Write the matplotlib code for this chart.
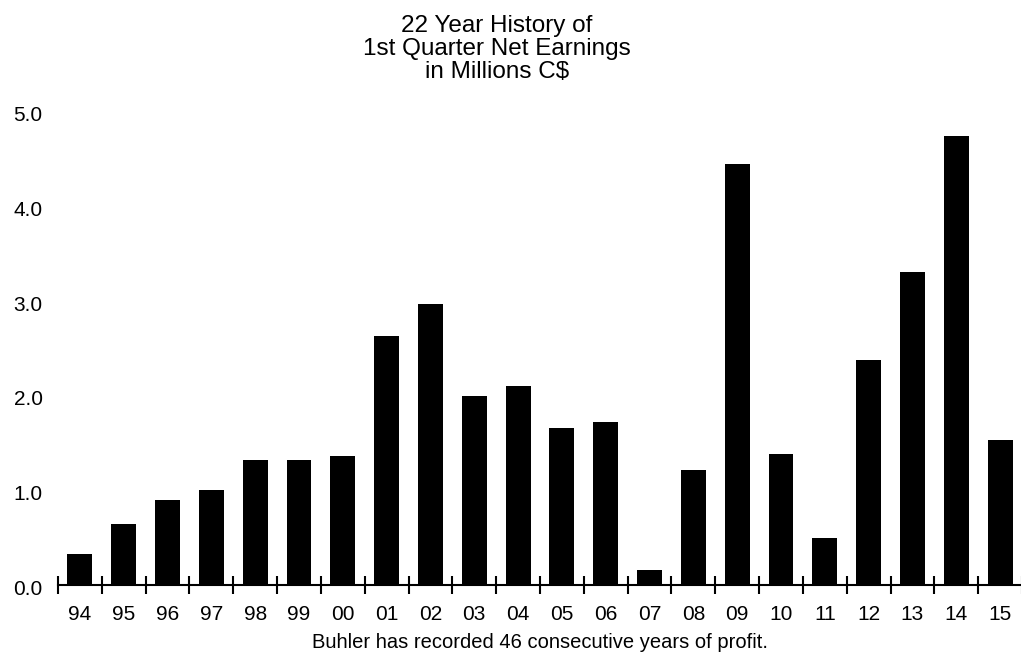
import matplotlib
matplotlib.use("Agg")
import matplotlib.pyplot as plt
import matplotlib.transforms as mtransforms
import numpy as np

years = ["94", "95", "96", "97", "98", "99", "00", "01", "02", "03", "04",
         "05", "06", "07", "08", "09", "10", "11", "12", "13", "14", "15"]
earnings = [0.32, 0.64, 0.89, 1.00, 1.31, 1.31, 1.36, 2.62, 2.96, 1.99, 2.09,
            1.65, 1.71, 0.15, 1.21, 4.44, 1.38, 0.49, 2.37, 3.30, 4.73, 1.52]
yticks = [0.0, 1.0, 2.0, 3.0, 4.0, 5.0]

plt.rcParams['font.family'] = ['Liberation Sans', 'DejaVu Sans']

fig = plt.figure(figsize=(10.21, 6.59), dpi=100)
ax = fig.add_axes([58/1021, (659-584.5)/659, (1022-58)/1021, 474/659])

x = np.arange(len(years))
ax.bar(x, earnings, width=0.57, color="black", zorder=2)

ax.set_xlim(-0.5, len(years) - 0.5)
ax.set_ylim(0, 5.0)

for s in ["top", "right", "left"]:
    ax.spines[s].set_visible(False)
ax.spines["bottom"].set_linewidth(1.5)
ax.spines["bottom"].set_zorder(3)

ax.set_yticks(yticks)
ax.set_yticklabels([f"{v:.1f}" for v in yticks], fontsize=15)
ax.tick_params(axis="y", length=0, pad=11)
offset = mtransforms.ScaledTranslation(0, -3/100, fig.dpi_scale_trans)
for lbl in ax.get_yticklabels():
    lbl.set_transform(lbl.get_transform() + offset)

ax.set_xticks(x)
ax.set_xticklabels(years, fontsize=15)
ax.tick_params(axis="x", which="major", length=0, pad=15)
ax.set_xticks(np.arange(-0.5, len(years) + 0.5, 1.0), minor=True)
ax.tick_params(axis="x", which="minor", direction="inout", length=13, width=1.5)

fig.text(497/1021, 1 - 49/659, "22 Year History of\n1st Quarter Net Earnings\nin Millions C$",
         ha="center", va="center", fontsize=17.5, linespacing=1.08)
fig.text(540/1021, 1 - 643/659, "Buhler has recorded 46 consecutive years of profit.",
         ha="center", va="center", fontsize=14.5)

fig.savefig("out.png", dpi=100)
